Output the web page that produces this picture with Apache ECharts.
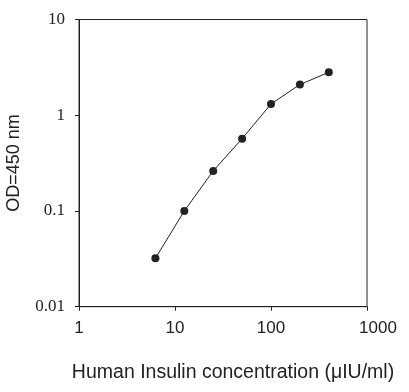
<!DOCTYPE html>
<html><head><meta charset="utf-8">
<script src="https://cdn.jsdelivr.net/npm/echarts@6/dist/echarts.min.js"></script>
<style>html,body{margin:0;padding:0;background:#fff}#c{width:409px;height:392px}</style>
</head><body><div id="c"></div>
<script>
const concentrations = [6.25, 12.5, 25, 50, 100, 200, 400];
const odValues = [0.032, 0.1, 0.262, 0.569, 1.31, 2.09, 2.81];
const xTitle = 'Human Insulin concentration (\u03bcIU/ml)';
const yTitle = 'OD=450 nm';

const chart = echarts.init(document.getElementById('c'), null, {renderer: 'canvas'});
const axisCol = '#222';
chart.setOption({
  animation: false,
  backgroundColor: '#fff',
  grid: {left: 79, right: 42, top: 19.5, bottom: 85.3, show: true, borderColor: axisCol, borderWidth: 1,
    containLabel: false, outerBoundsMode: 'none'},
  xAxis: {
    type: 'log', logBase: 10, min: 1, max: 1000,
    name: xTitle, nameLocation: 'middle', nameGap: 56,
    nameTextStyle: {fontFamily: 'Liberation Sans, Arial', fontSize: 19.5, color: '#222', padding: [0, 0, 0, 20]},
    axisLine: {show: true, lineStyle: {color: axisCol, width: 1}},
    axisTick: {show: true, inside: false, length: 4, lineStyle: {color: axisCol}},
    minorTick: {show: false},
    splitLine: {show: false},
    axisLabel: {fontFamily: 'Liberation Sans, Arial', fontSize: 17, color: '#222', margin: 13,
      formatter: v => (Math.round(v) === 1000 ? '{r|1000}' : String(Math.round(v))),
      rich: {r: {fontFamily: 'Liberation Sans, Arial', fontSize: 17, color: '#222', padding: [0, 0, 0, 22]}}}
  },
  yAxis: {
    type: 'log', logBase: 10, min: 0.01, max: 10,
    name: yTitle, nameLocation: 'middle', nameGap: 56, nameRotate: 90,
    nameTextStyle: {fontFamily: 'Liberation Sans, Arial', fontSize: 18, color: '#222'},
    axisLine: {show: true, lineStyle: {color: axisCol, width: 1}},
    axisTick: {show: true, inside: false, length: 4, lineStyle: {color: axisCol}},
    splitLine: {show: false},
    axisLabel: {fontFamily: 'Liberation Serif, Times New Roman, serif', fontSize: 17, color: '#222', margin: 14,
      formatter: v => String(+v.toPrecision(3))}
  },
  series: [{
    type: 'line',
    data: concentrations.map((x, i) => [x, odValues[i]]),
    symbol: 'circle', symbolSize: 8,
    itemStyle: {color: '#222'},
    lineStyle: {color: '#222', width: 1}
  }]
});
</script></body></html>
